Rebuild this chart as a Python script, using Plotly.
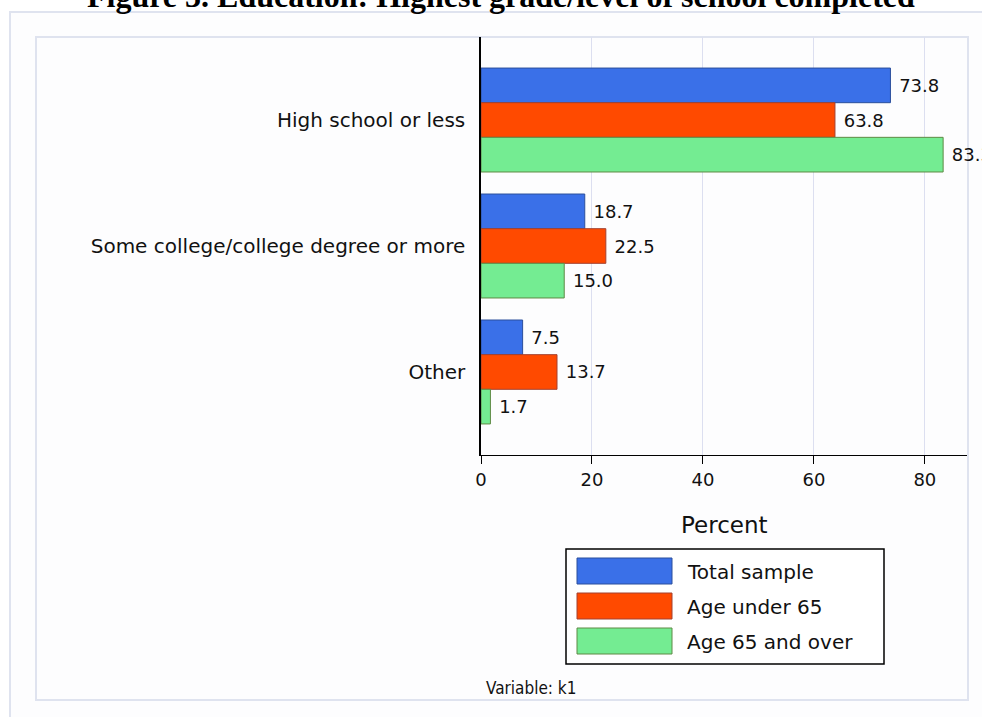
import plotly.graph_objects as go

# ---- data ----
categories = ["High school or less", "Some college/college degree or more", "Other"]
series_names = ["Total sample", "Age under 65", "Age 65 and over"]
total_sample = [73.8, 18.7, 7.5]
age_under_65 = [63.8, 22.5, 13.7]
age_65_over = [83.3, 15.0, 1.7]
x_tick_vals = [0, 20, 40, 60, 80]
title_text = "Figure 3. Education: Highest grade/level of school completed"
x_title = "Percent"
footnote = "Variable: k1"

series_values = [total_sample, age_under_65, age_65_over]
fill_colors = ["#3a70e8", "#ff4a00", "#74ec92"]
line_colors = ["#2b4f9c", "#a4402e", "#5f8a45"]

W, H = 982, 717
PL, PR, PT, PB = 481, 967, 37, 455  # plot area in pixels


def xp(px):
    return (px - PL) / (PR - PL)


def yp(py):
    return (PB - py) / (PB - PT)


FONT = "DejaVu Sans, Verdana, sans-serif"

fig = go.Figure()
for name, vals, fc, lc in zip(series_names, series_values, fill_colors, line_colors):
    fig.add_trace(go.Bar(
        y=categories, x=vals, name=name, orientation="h",
        marker=dict(color=fc, line=dict(color=lc, width=1)),
        texttemplate="\u00a0%{x:.1f}", textposition="outside",
        textfont=dict(family=FONT, size=18, color="#111111"),
        constraintext="none", cliponaxis=False, showlegend=False,
        hoverinfo="skip",
    ))

shapes = []
# outer and inner frames
shapes.append(dict(type="rect", xref="paper", yref="paper",
                   x0=xp(10), x1=xp(1000), y0=yp(12), y1=yp(740),
                   line=dict(color="#dfe3ef", width=2), fillcolor="#fdfdfe", layer="below"))
shapes.append(dict(type="rect", xref="paper", yref="paper",
                   x0=xp(36), x1=xp(968), y0=yp(37), y1=yp(700),
                   line=dict(color="#dfe3ef", width=2), fillcolor="#fdfdfe", layer="below"))
# legend box
shapes.append(dict(type="rect", xref="paper", yref="paper",
                   x0=xp(566), x1=xp(884), y0=yp(549), y1=yp(664),
                   line=dict(color="#000000", width=1.5), fillcolor="#ffffff", layer="above"))

annotations = []
row_tops = [558, 593, 628]
for i, name in enumerate(series_names):
    t = row_tops[i]
    shapes.append(dict(type="rect", xref="paper", yref="paper",
                       x0=xp(577), x1=xp(672), y0=yp(t), y1=yp(t + 26),
                       line=dict(color=line_colors[i], width=1), fillcolor=fill_colors[i],
                       layer="above"))
    annotations.append(dict(xref="paper", yref="paper", x=xp(685), y=yp(t + 13.5),
                            xanchor="left", yanchor="middle", showarrow=False,
                            text=name, font=dict(family=FONT, size=20, color="#111111")))

annotations.append(dict(xref="paper", yref="paper", x=xp(501), y=yp(-4),
                        xanchor="center", yanchor="middle", showarrow=False,
                        text="<b>" + title_text + "</b>",
                        font=dict(family="Liberation Serif, Times New Roman, serif", size=32,
                                  color="#000000")))
annotations.append(dict(xref="paper", yref="paper", x=xp(724), y=yp(525),
                        xanchor="center", yanchor="middle", showarrow=False,
                        text=x_title, font=dict(family=FONT, size=23, color="#111111")))
annotations.append(dict(xref="paper", yref="paper", x=xp(484), y=yp(688),
                        xanchor="left", yanchor="middle", showarrow=False,
                        text=footnote,
                        font=dict(family="DejaVu Sans Condensed, Liberation Sans Narrow, DejaVu Sans",
                                  size=17, color="#111111")))

fig.update_layout(
    width=W, height=H,
    margin=dict(l=PL, r=W - PR, t=PT, b=H - PB, pad=0),
    paper_bgcolor="#ffffff", plot_bgcolor="rgba(0,0,0,0)",
    barmode="group", bargap=0.175, bargroupgap=0,
    showlegend=False,
    shapes=shapes, annotations=annotations,
    font=dict(family=FONT, color="#111111"),
)
fig.update_xaxes(
    range=[0, 87.6], tickvals=x_tick_vals, showgrid=True, gridcolor="#dcdff0", gridwidth=1,
    showline=True, linecolor="#000000", linewidth=1, zeroline=False,
    ticks="outside", ticklen=8, tickcolor="#000000", tickwidth=1,
    tickfont=dict(family=FONT, size=18, color="#111111"),
)
fig.update_yaxes(
    type="category", range=[2.659, -0.659], showgrid=False,
    showline=True, linecolor="#000000", linewidth=1.5, zeroline=False,
    ticks="", ticklabelstandoff=10,
    tickfont=dict(family=FONT, size=20, color="#111111"),
)

fig.write_html("out.html")
